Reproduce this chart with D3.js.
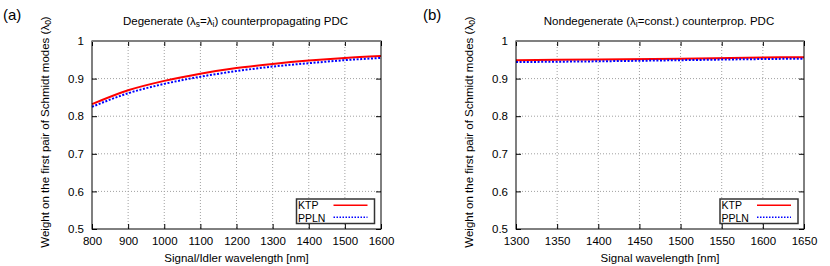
<!DOCTYPE html>
<html><head><meta charset="utf-8">
<script src="https://cdn.jsdelivr.net/npm/d3@7"></script>
<style>body{margin:0;background:#fff}svg{display:block}text{font-family:"Liberation Sans",Arial,sans-serif;fill:#000}</style>
</head><body><svg id="c" width="830" height="266"></svg>
<script>
// Panel (a): degenerate
const xA = [800, 900, 1000, 1100, 1200, 1300, 1400, 1500, 1600];
const ktpA = [0.832, 0.869, 0.894, 0.913, 0.928, 0.939, 0.948, 0.955, 0.960];
const pplnA = [0.825, 0.861, 0.886, 0.905, 0.920, 0.932, 0.941, 0.949, 0.955];
const xTicksA = [800, 900, 1000, 1100, 1200, 1300, 1400, 1500, 1600];
// Panel (b): nondegenerate
const xB = [1300, 1400, 1500, 1600, 1650];
const ktpB = [0.949, 0.951, 0.953, 0.956, 0.957];
const pplnB = [0.944, 0.946, 0.949, 0.952, 0.953];
const xTicksB = [1300, 1350, 1400, 1450, 1500, 1550, 1600, 1650];
const yTicks = [0.5, 0.6, 0.7, 0.8, 0.9, 1];
const yTickLabels = ["0.5", "0.6", "0.7", "0.8", "0.9", "1"];
const seriesNames = ["KTP", "PPLN"];

const svg = d3.select("#c");

function panel(o) {
  const g = svg.append("g");
  const x = d3.scaleLinear().domain(o.xd).range([o.l, o.r]);
  const y = d3.scaleLinear().domain([0.5, 1]).range([o.b, o.t]);
  // grid
  g.selectAll(".gx").data(o.xt.slice(1, -1)).enter().append("line")
    .attr("x1", d => x(d)).attr("x2", d => x(d)).attr("y1", o.t).attr("y2", o.b)
    .attr("stroke", "#a0a0a0").attr("stroke-width", 1).attr("stroke-dasharray", "1,2");
  g.selectAll(".gy").data(yTicks.slice(1, -1)).enter().append("line")
    .attr("x1", o.l).attr("x2", o.r).attr("y1", d => y(d)).attr("y2", d => y(d))
    .attr("stroke", "#a0a0a0").attr("stroke-width", 1).attr("stroke-dasharray", "1,2");
  // axes with inward ticks
  const ax = [
    [d3.axisBottom(x).tickValues(o.xt).tickSize(-5).tickPadding(8).tickFormat(d3.format("d")), `translate(0,${o.b})`],
    [d3.axisTop(x).tickValues(o.xt).tickSize(-5).tickFormat(""), `translate(0,${o.t})`],
    [d3.axisLeft(y).tickValues(yTicks).tickSize(-5).tickPadding(8).tickFormat((d, i) => yTickLabels[i]), `translate(${o.l},0)`],
    [d3.axisRight(y).tickValues(yTicks).tickSize(-5).tickFormat(""), `translate(${o.r},0)`]
  ];
  ax.forEach(([a, tr]) => {
    const s = g.append("g").attr("transform", tr).call(a);
    s.select(".domain").remove();
    s.selectAll("line").attr("stroke", "#000");
    s.selectAll("text").attr("font-size", 11.5).attr("font-family", '"Liberation Sans",Arial,sans-serif');
  });
  // data
  const line = d3.line().x(d => x(d[0])).y(d => y(d[1])).curve(d3.curveMonotoneX);
  g.append("path").datum(o.xs.map((v, i) => [v, o.k[i]])).attr("d", line)
    .attr("fill", "none").attr("stroke", "#ff0000").attr("stroke-width", 2);
  g.append("path").datum(o.xs.map((v, i) => [v, o.p[i]])).attr("d", line)
    .attr("fill", "none").attr("stroke", "#0000ff").attr("stroke-width", 2).attr("stroke-dasharray", "2,1.6");
  // frame
  g.append("rect").attr("x", o.l).attr("y", o.t).attr("width", o.r - o.l).attr("height", o.b - o.t)
    .attr("fill", "none").attr("stroke", "#000").attr("stroke-width", 1);
  g.append("line").attr("x1", o.l).attr("x2", o.r).attr("y1", o.t).attr("y2", o.t)
    .attr("stroke", "#808080").attr("stroke-width", 2);
  // legend
  const lg = g.append("g");
  lg.append("rect").attr("x", o.lx).attr("y", 199).attr("width", 78).attr("height", 24.5)
    .attr("fill", "#fff").attr("stroke", "#333").attr("stroke-width", 1.5);
  seriesNames.forEach((n, i) => {
    lg.append("text").attr("x", o.lx + 1.5).attr("y", 209.3 + i * 12.2).attr("font-size", 10.5).text(n);
    lg.append("line").attr("x1", o.lx + 37).attr("x2", o.lx + 71).attr("y1", 205.3 + i * 12).attr("y2", 205.3 + i * 12)
      .attr("stroke", i ? "#0000ff" : "#ff0000").attr("stroke-width", 1.5)
      .attr("stroke-dasharray", i ? "1.5,1.5" : null);
  });
  // labels
  svg.append("text").attr("x", o.pl).attr("y", 20).attr("font-size", 15)
    .attr("font-family", '"DejaVu Sans",sans-serif').text(o.panel);
  const tt = svg.append("text").attr("x", (o.l + o.r) / 2 - 1).attr("y", 25).attr("font-size", 11.5).attr("text-anchor", "middle");
  o.title.forEach(([t, sub]) => tt.append("tspan").attr("baseline-shift", sub ? "-25%" : null).attr("font-size", sub ? 8.5 : null).text(t));
  svg.append("text").attr("x", (o.l + o.r) / 2).attr("y", 262).attr("font-size", 11.5).attr("text-anchor", "middle").text(o.xlabel);
  const yl = svg.append("text").attr("transform", `translate(${o.yx},132) rotate(-90)`).attr("font-size", 11.5).attr("text-anchor", "middle");
  yl.append("tspan").text("Weight on the first pair of Schmidt modes (λ");
  yl.append("tspan").attr("baseline-shift", "-25%").attr("font-size", 8.5).text("0");
  yl.append("tspan").text(")");
}

panel({xd: [800, 1600], xt: xTicksA, xs: xA, k: ktpA, p: pplnA, l: 92, r: 381, t: 41, b: 229,
  lx: 296.5, pl: 3, panel: "(a)", yx: 49,
  title: [["Degenerate (λ", 0], ["s", 1], ["=λ", 0], ["i", 1], [") counterpropagating PDC", 0]],
  xlabel: "Signal/Idler wavelength [nm]"});
panel({xd: [1300, 1650], xt: xTicksB, xs: xB, k: ktpB, p: pplnB, l: 516, r: 804, t: 41, b: 229,
  lx: 720, pl: 423, panel: "(b)", yx: 473,
  title: [["Nondegenerate (λ", 0], ["i", 1], ["=const.) counterprop. PDC", 0]],
  xlabel: "Signal wavelength [nm]"});
</script></body></html>
